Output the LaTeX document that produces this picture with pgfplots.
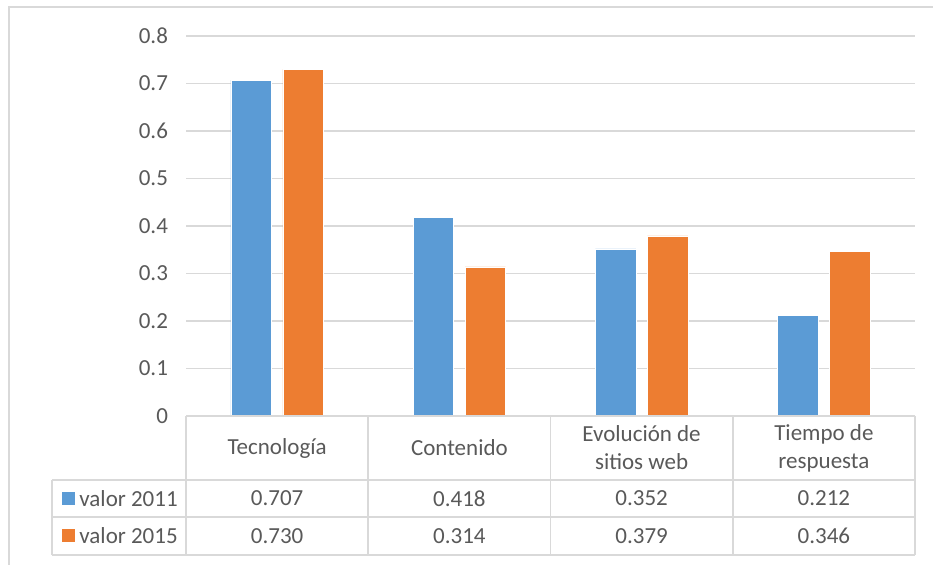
\documentclass[border=0pt]{standalone}
\usepackage{pgfplots}
\pgfplotsset{compat=1.18}
\usepackage{fontspec}
\setmainfont{Carlito}
\definecolor{xlblue}{HTML}{5B9BD5}
\definecolor{xlorange}{HTML}{ED7D31}
\definecolor{xlgrid}{HTML}{D9D9D9}
\definecolor{xltext}{HTML}{595959}

\begin{document}
\fontsize{11.5}{14}\selectfont
\begin{tikzpicture}
\useasboundingbox (0,0) rectangle (466.5pt,-282.5pt);
\begin{axis}[
  at={(93pt,-208pt)}, anchor=south west,
  scale only axis, width=364.5pt, height=190pt,
  xmin=-0.5, xmax=3.5, ymin=0, ymax=0.8,
  ytick={0,0.1,...,0.8},
  xtick=\empty,
  axis line style={draw=none},
  major tick length=0pt,
  ymajorgrids,
  grid style={xlgrid, line width=0.9pt},
  ybar, bar width=20.3pt, ybar=5.7pt,
  /pgf/number format/assume math mode=true,
  yticklabel style={font=\fontsize{11.5}{14}\selectfont, text=xltext, xshift=-5pt},
]
\addplot[fill=xlblue, draw=white, line width=0.3pt] coordinates {(0,0.707) (1,0.418) (2,0.352) (3,0.212)};
\addplot[fill=xlorange, draw=white, line width=0.3pt] coordinates {(0,0.730) (1,0.314) (2,0.379) (3,0.346)};
\end{axis}
\begin{scope}[x=0.5pt, y=-0.5pt, every node/.style={text=xltext, font=\fontsize{11.5}{14}\selectfont}]
  % outer chart border (right and bottom cut off)
  \draw[xlgrid, line width=0.8pt] (9,565) -- (9,7) -- (933,7);
  % data table
  \begin{scope}[xlgrid, line width=0.9pt]
    \draw (186,416) -- (915,416);
    \foreach \yy in {480,517,555} \draw (52,\yy) -- (915,\yy);
    \draw (52,480) -- (52,555);
    \foreach \xx in {186,368.25,550.5,732.75,915} \draw (\xx,416) -- (\xx,555);
  \end{scope}
  \node[align=center] at (277.1,448) {Tecnología};
  \node[align=center] at (459.4,448) {Contenido};
  \node[align=center] at (641.6,448) {Evolución de\\sitios web};
  \node[align=center] at (823.9,448) {Tiempo de\\respuesta};
  \fill[xlblue] (62,492) rectangle (75,505);
  \fill[xlorange] (62,529) rectangle (75,542);
  \node[anchor=west, inner sep=0pt] at (79,498.5) {valor 2011};
  \node[anchor=west, inner sep=0pt] at (79,536) {valor 2015};
  \node at (277.1,498.5) {0.707};
  \node at (459.4,498.5) {0.418};
  \node at (641.6,498.5) {0.352};
  \node at (823.9,498.5) {0.212};
  \node at (277.1,536) {0.730};
  \node at (459.4,536) {0.314};
  \node at (641.6,536) {0.379};
  \node at (823.9,536) {0.346};
\end{scope}
\end{tikzpicture}
\end{document}
